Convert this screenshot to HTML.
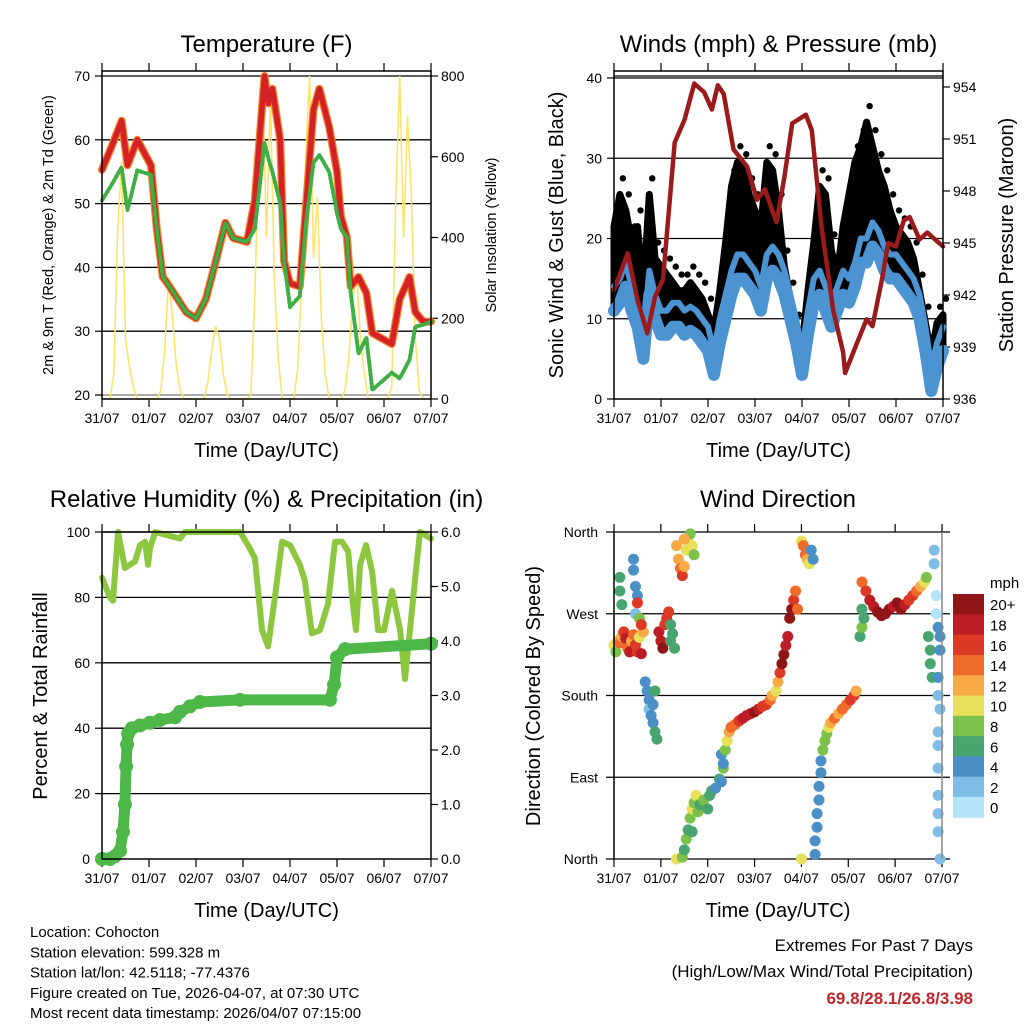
<!DOCTYPE html>
<html><head><meta charset="utf-8">
<style>
html,body{margin:0;padding:0;background:#fff;}
svg{display:block;font-family:"Liberation Sans",Arial,sans-serif;}
</style></head>
<body>
<svg id="fig" width="1024" height="1024" viewBox="0 0 1024 1024" xmlns="http://www.w3.org/2000/svg">
<rect x="0" y="0" width="1024" height="1024" fill="#fff"/>
<g id="root"></g>
</svg>
<script>
// ---------- data ----------
const dayLabels = ["31/07","01/07","02/07","03/07","04/07","05/07","06/07","07/07"];
const tempTicks = [20,30,40,50,60,70];
const solarTicks = [0,200,400,600,800];
const windTicks = [0,10,20,30,40];
const presTicks = [936,939,942,945,948,951,954];
const rhTicks = [0,20,40,60,80,100];
const rainTicks = ["0.0","1.0","2.0","3.0","4.0","5.0","6.0"];
const dirTickLabels = ["North","East","South","West","North"];
const speedLabels = ["0","2","4","6","8","10","12","14","16","18","20+"];

const tempHours = [0,5,10,13,18,25,28,31,33,43,48,53,59,63,67,74,78,83,85,87,91,93,96,101,104,108,111,116,120,122,125,127,131,135,138,148,152,157,160,164,168];
const tempRed = [55.3,59,63,56,60,56,46,38.5,37.7,33,32,35,42,47,44.6,44,50.5,70,65.7,68,60,41,37.5,37,49,64.7,68,62,55,48,44.8,37,38.5,36,29.7,28,35,38.5,33,31.5,31.5];
const dewPoint = [50.5,53,55.7,49,55.2,54.5,46,38.5,37.7,33,32,35,42,47,44.6,44,46,59.5,57,55,50,41,33.8,35.5,46.5,56.4,57.6,55,48.5,46,44.8,36,26.5,29,20.8,23.5,22.6,25.5,30.7,31,31.5];
// solar insolation every 2 hours
const solar = [0,0,0,60,420,590,150,80,30,0, 0,0,0,0,0,20,120,300,200,80, 20,0,0,0,0,0,0,40,120,180, 150,60,10,0,0,0,0,0,10,250, 600,790,400,750,300,100,0,0,0,0, 80,300,600,800,350,500,200,60,0,0, 0,0,20,100,250,310,150,60,0,0, 0,0,0,0,30,500,800,400,700,500, 150,20,0,0,0];

// winds every 3 hours
const sonicWind = [11,12,14,11,9,5,13,10,8,8,9,9,8,8.5,8,7,6,3,7,10,13,15,15,14,13,11,15,16,15,13,10,7,3,8,12,13,11,9,11,13,12,14,17,17,19,18,16,15,15,14,13,12,10,6,1,4,6];
const gustWind = [20,24,22,18,20,12,24,16,15,14,13,12,12,13,12,11,9,7,12,18,25,28,27,24,22,20,28,27,22,15,11,7,5,12,18,25,24,17,14,20,24,28,30,33,30,27,25,22,20,19,18,16,12,8,4,8,9];
const presHours = [0,7,12,17,21,25,31,36,41,46,50,53,56,61,68,73,77,83,87,91,98,101,106,112,117,118,124,129,132,137,140,144,148,151,156,160,168];
const pressure = [942.3,944.4,941.7,939.8,941.9,942.9,950.8,952.1,954.2,953.7,952.7,954.1,953.6,950.4,949.4,947.5,948.1,946.2,948.8,951.9,952.4,951.5,945.9,941.1,938.7,937.5,939.2,940.6,940.2,943,945,944.8,946.3,946.5,945.2,945.6,944.8];

const rhHours = [0,4.1,5.6,8.2,11.7,16.9,19.4,22,23.5,24.5,27.1,39.8,42.4,70.5,74.5,78.1,81.7,84.8,88.3,91.9,96,101,103.6,107.2,111.3,115.4,119,122.6,125.7,127.7,129.7,131.8,134.8,137.9,141,144,148.1,152.2,154.7,157.3,159.8,162.4,168];
const relHum = [86,80,79,100,89,91,96,97,90,95,100,98,100,100,96,92,70,65,80,97,96,90,85,69,70,78,97,97,94,80,70,90,96,88,70,70,82,70,55,70,85,100,98];
const rainHours = [0,4.1,6.6,9.2,10.7,11.7,12.3,12.8,13.3,15.3,19.4,24.5,29.6,37.3,39.8,44.9,50,70.5,116.4,118.5,120,124.1,168];
const rainTotal = [0,0,0.05,0.15,0.5,1.0,1.7,2.1,2.3,2.4,2.45,2.5,2.55,2.6,2.7,2.8,2.88,2.92,2.92,3.2,3.7,3.85,3.95];

const dirHours = [0,1,2,3,4,5,6,7,8,9,10,11,12,13,14,15, 3,3,4,10,10,11,12,11,13,12,14, 16,17,18,18,19,20,21,22,20,21, 23,24,25,26,27,28,29,30,29,31, 32,33,34,35,36,37,38,39,40,41,36, 32,35,36,37,38,39,40,41,42,43,40, 44,46,48,49,50,52,54,56,55, 55,56,57,58,59,60, 62,64,66,68,70,72,74,76,78,80,81, 83,84,85,86,87,88,89, 90,91,92,93,94, 96,97,98,99,100,101,102, 96, 103,103,104,104,105,105,106,106, 107,108,109,110, 111,113,115,117,119,121,123,124, 126,127,128,127, 127,129,131,133,135,137,139,141,143,145,147,149,151,153,155,157,159,160, 161,162,162,163, 164,164,165,166,167,167,166,166,167,166,166,166,166,166,166,167,165];
const dirDeg = [235,228,240,238,245,250,243,232,228,240,247,236,228,244,226,250, 310,295,280,330,318,300,290,270,265,282,258, 195,185,175,165,158,150,140,132,170,185, 250,240,232,258,265,272,258,248,240,232, 345,330,320,312,322,340,352,358,345,335,352, 0,2,10,22,32,45,55,62,70,52,30, 60,65,55,70,75,78,88,100,115, 85,105,120,130,140,145, 148,152,155,158,160,162,165,168,170,175,180, 185,195,205,215,225,235,245, 265,275,285,295,275, 350,345,335,330,325,340,330, 0, 5,20,35,50,65,80,95,108, 120,130,138,145, 150,155,160,165,170,175,180,185, 245,255,265,275, 305,295,285,278,272,268,270,275,278,282,275,280,285,290,295,300,305,310, 245,230,215,200, 340,325,270,255,245,230,200,180,165,140,125,100,70,50,30,0,290];
const dirSpeed = [10,9,12,14,13,16,18,15,18,12,14,17,16,10,18,12, 6,6,6,4,4,4,5,3,8,17,16, 5,4,5,3,4,5,6,6,4,6, 18,19,20,16,17,16,7,7,6,6, 12,12,14,16,13,10,11,9,10,8,12, 10,9,6,8,7,8,10,9,10,8,6, 6,8,7,6,6,5,6,8,5, 5,4,8,10,12,14, 15,17,18,19,18,20,18,16,17,14,12, 10,12,16,20,20,18,18, 20,20,16,14,14, 10,14,14,12,10,4,4, 11, 4,5,4,5,4,4,4,5, 8,8,9,10, 13,14,13,15,14,16,16,12, 6,8,7,6, 14,16,18,18,20,20,20,20,19,20,20,18,16,16,14,12,10,8, 6,6,6,6, 2,2,1,4,4,4,4,2,2,3,2,3,2,2,2,3,1];
const speedColors = ["#b5e3f8","#80bde6","#4a8fc6","#48a56f","#7cc14a","#e8e05a","#f7aa45","#f06a2a","#dd3a26","#bd1d24","#8f1517"];

// ---------- helpers ----------
const NS = "http://www.w3.org/2000/svg";
const root = document.getElementById("root");
function mk(tag, attrs, parent){
  const e = document.createElementNS(NS, tag);
  for (const k in attrs) e.setAttribute(k, attrs[k]);
  (parent || root).appendChild(e);
  return e;
}
function txt(s, x, y, size, anchor, parent, extra){
  const e = mk("text", Object.assign({x:x, y:y, "font-size":size, "text-anchor":anchor||"middle", fill:"#000"}, extra||{}), parent);
  e.textContent = s;
  return e;
}
function linScale(d0,d1,r0,r1){ return v => r0 + (v-d0)/(d1-d0)*(r1-r0); }
function pathFrom(xs, ys){ let d=""; for(let i=0;i<xs.length;i++){ d += (i?"L":"M")+xs[i].toFixed(1)+","+ys[i].toFixed(1);} return d; }

function panelFrame(g, L, R, T, B, tickY, labelY){
  const xS = linScale(0,168,L,R);
  for (let i=0;i<dayLabels.length;i++){
    const x = xS(i*24);
    mk("line",{x1:x,y1:B,x2:x,y2:B+8,stroke:"#000","stroke-width":1.2},g);
    mk("line",{x1:x,y1:T,x2:x,y2:T-8,stroke:"#000","stroke-width":1.2},g);
    const t = txt(dayLabels[i], x, tickY, 14, "middle", g);
    
    
  }
  const xl = txt("Time (Day/UTC)", (L+R)/2, labelY, 20, "middle", g);
  
  
  return xS;
}
function frameBox(g,L,R,T,B){
  const r = mk("rect",{x:L,y:T,width:R-L,height:B-T,fill:"none",stroke:"#000","stroke-width":1.5},g);
  
  
}

// ---------- Panel 1: Temperature ----------
(function(){
  const L=102,R=431,T=71,B=399;
  const g = mk("g",{});
  
  
  const xS = panelFrame(g,L,R,T,B,423,457);
  const yT = linScale(20,70,395,76);
  const yS = linScale(0,800,399,76);
  for (const v of tempTicks){
    const y = yT(v);
    mk("line",{x1:L,y1:y,x2:R,y2:y,stroke:v===20?"#777":"#000","stroke-width":1.3},g);
    mk("line",{x1:L,y1:y,x2:L-7,y2:y,stroke:"#000","stroke-width":1.2},g);
    const t = txt(String(v), L-12, y+5, 14, "end", g);
    
    
  }
  for (const v of solarTicks){
    const y = yS(v);
    mk("line",{x1:R,y1:y,x2:R+7,y2:y,stroke:"#000","stroke-width":1.2},g);
    const t = txt(String(v), R+10, y+5, 14, "start", g);
    
    
  }
  const sx = solar.map((v,i)=>xS(i*2)), sy = solar.map(v=>yS(v));
  const sp = mk("path",{d:pathFrom(sx,sy),fill:"none",stroke:"#fde36a","stroke-width":1.6},g);
  
  
  const tx = tempHours.map(xS);
  const o = mk("path",{d:pathFrom(tx,tempRed.map(yT)),fill:"none",stroke:"#f0862e","stroke-width":8,"stroke-linejoin":"round","stroke-linecap":"round"},g);
  
  
  const r = mk("path",{d:pathFrom(tx,tempRed.map(yT)),fill:"none",stroke:"#d42126","stroke-width":5.5,"stroke-linejoin":"round","stroke-linecap":"round"},g);
  
  
  const d = mk("path",{d:pathFrom(tx,dewPoint.map(yT)),fill:"none",stroke:"#3eae45","stroke-width":4,"stroke-dasharray":"2 2.5","stroke-linecap":"round","stroke-linejoin":"round"},g);
  
  
  frameBox(g,L,R,T,B);
  const ti = txt("Temperature (F)", (L+R)/2, 52, 24, "middle", g);
  
  
  const yl = txt("2m & 9m T (Red, Orange) & 2m Td (Green)", 0, 0, 14.5, "middle", g, {transform:"translate(53,235) rotate(-90)"});
  
  
  const yr = txt("Solar Insolation (Yellow)", 0, 0, 14.5, "middle", g, {transform:"translate(496,235) rotate(-90)"});
  
  
})();

// ---------- Panel 2: Winds ----------
(function(){
  const L=614,R=943,T=71,B=399;
  const g = mk("g",{});
  
  
  const xS = panelFrame(g,L,R,T,B,423,457);
  const yW = linScale(0,40,399,78);
  const yP = linScale(936,954,399,87);
  for (const v of windTicks){
    const y = yW(v);
    if (v>0) mk("line",{x1:L,y1:y,x2:R,y2:y,stroke:"#000","stroke-width":1.3},g);
    mk("line",{x1:L,y1:y,x2:L-7,y2:y,stroke:"#000","stroke-width":1.2},g);
    const t = txt(String(v), L-12, y+5, 14, "end", g);
    
    
  }
  for (const v of presTicks){
    const y = yP(v);
    mk("line",{x1:R,y1:y,x2:R+7,y2:y,stroke:"#000","stroke-width":1.2},g);
    const t = txt(String(v), R+10, y+5, 14, "start", g);
    
    
  }
  const wx = gustWind.map((v,i)=>xS(i*3));
  // gust cloud: filled band from sonic wind up to gust
  let dArea = pathFrom(wx, gustWind.map(v=>yW(v+1.5)));
  for (let i=sonicWind.length-1;i>=0;i--) dArea += "L"+wx[i].toFixed(1)+","+yW(sonicWind[i]).toFixed(1);
  dArea += "Z";
  const ga = mk("path",{d:dArea,fill:"#000",stroke:"#000","stroke-width":7,"stroke-linejoin":"round"},g);
  
  
  for (let i=0;i<gustWind.length;i++){
    const c = mk("circle",{cx:wx[i]+3,cy:yW(gustWind[i]+3.5),r:3.2,fill:"#000"},g);
    
    
  }
  const bp = mk("path",{d:pathFrom(wx,sonicWind.map(yW)),fill:"none",stroke:"#4b93d1","stroke-width":12,"stroke-linejoin":"round","stroke-linecap":"round"},g);
  
  
  const bp2 = mk("path",{d:pathFrom(wx,sonicWind.map(v=>yW(v+3))),fill:"none",stroke:"#4b93d1","stroke-width":6,"stroke-linejoin":"round","stroke-linecap":"round"},g);
  
  
  const pp = mk("path",{d:pathFrom(presHours.map(xS),pressure.map(yP)),fill:"none",stroke:"#9b1a1c","stroke-width":4.5,"stroke-linejoin":"round","stroke-linecap":"round"},g);
  
  
  mk("line",{x1:L,y1:76,x2:R,y2:76,stroke:"#000","stroke-width":1.3},g);
  frameBox(g,L,R,T,B);
  const ti = txt("Winds (mph) & Pressure (mb)", (L+R)/2, 52, 24, "middle", g);
  
  
  const yl = txt("Sonic Wind & Gust (Blue, Black)", 0, 0, 20, "middle", g, {transform:"translate(563,235) rotate(-90)"});
  
  
  const yr = txt("Station Pressure (Maroon)", 0, 0, 20, "middle", g, {transform:"translate(1013,235) rotate(-90)"});
  
  
})();

// ---------- Panel 3: RH & Precip ----------
(function(){
  const L=102,R=431,T=532,B=859;
  const g = mk("g",{});
  
  
  const xS = panelFrame(g,L,R,T,B,883,917);
  const yR = linScale(0,100,859,532);
  const yP = linScale(0,6,859,532);
  for (const v of rhTicks){
    const y = yR(v);
    if (v>0) mk("line",{x1:L,y1:y,x2:R,y2:y,stroke:"#000","stroke-width":1.3},g);
    mk("line",{x1:L,y1:y,x2:L-7,y2:y,stroke:"#000","stroke-width":1.2},g);
    const t = txt(String(v), L-12, y+5, 14, "end", g);
    
    
  }
  for (let i=0;i<rainTicks.length;i++){
    const y = yP(i);
    mk("line",{x1:R,y1:y,x2:R+7,y2:y,stroke:"#000","stroke-width":1.2},g);
    const t = txt(rainTicks[i], R+10, y+5, 14, "start", g);
    
    
  }
  const rp = mk("path",{d:pathFrom(rhHours.map(xS),relHum.map(yR)),fill:"none",stroke:"#8dc63f","stroke-width":6,"stroke-linejoin":"round","stroke-linecap":"round"},g);
  
  
  const px = rainHours.map(xS), py = rainTotal.map(yP);
  const pl = mk("path",{d:pathFrom(px,py),fill:"none",stroke:"#4db848","stroke-width":11,"stroke-linejoin":"round","stroke-linecap":"round"},g);
  
  
  for (let i=0;i<px.length;i++){
    const c = mk("circle",{cx:px[i],cy:py[i],r:7,fill:"#4db848"},g);
    
    
  }
  frameBox(g,L,R,T,B);
  const ti = txt("Relative Humidity (%) & Precipitation (in)", (L+R)/2, 507, 24, "middle", g);
  
  
  const yl = txt("Percent & Total Rainfall", 0, 0, 20, "middle", g, {transform:"translate(47,696) rotate(-90)"});
  
  
})();

// ---------- Panel 4: Wind Direction ----------
(function(){
  const L=614,R=942,T=532,B=859;
  const g = mk("g",{});
  
  
  const xS = panelFrame(g,L,R,T,B,883,917);
  const yD = linScale(0,360,859,532);
  for (let i=0;i<dirTickLabels.length;i++){
    const y = yD(i*90);
    mk("line",{x1:L-8,y1:y,x2:R+8,y2:y,stroke:"#000","stroke-width":1.3},g);
    const t = txt(dirTickLabels[i], L-16, y+5, 14, "end", g);
    
    
  }
  for (let i=0;i<dirHours.length;i++){
    const bin = Math.max(0, Math.min(10, Math.floor(dirSpeed[i]/2)));
    const c = mk("circle",{cx:xS(dirHours[i]),cy:yD(dirDeg[i]),r:5.5,fill:speedColors[bin]},g);
    
    
  }
  mk("line",{x1:L,y1:T,x2:L,y2:B,stroke:"#000","stroke-width":1.5},g);
  mk("line",{x1:R,y1:T,x2:R,y2:B,stroke:"#888","stroke-width":1.5},g);
  const ti = txt("Wind Direction", (L+R)/2, 507, 24, "middle", g);
  
  
  const yl = txt("Direction (Colored By Speed)", 0, 0, 20, "middle", g, {transform:"translate(540,696) rotate(-90)"});
  
  
  // colorbar
  const cb = mk("g",{},g);
  
  
  const ch = 20.3, ctop = 594;
  for (let i=0;i<speedLabels.length;i++){
    const idx = speedLabels.length-1-i;
    const r = mk("rect",{x:953,y:ctop+i*ch,width:31,height:ch+0.5,fill:speedColors[idx]},cb);
    
    
    const t = txt(speedLabels[idx], 990, ctop+i*ch+ch/2+6, 15, "start", cb);
    
    
  }
  const u = txt("mph", 990, 588, 15, "start", cb);
  
  
})();

// ---------- footer text ----------
(function(){
  const g = mk("g",{});
  
  
  const lines = ["Location: Cohocton","Station elevation: 599.328 m","Station lat/lon: 42.5118; -77.4376","Figure created on Tue, 2026-04-07, at 07:30 UTC","Most recent data timestamp: 2026/04/07 07:15:00"];
  for (let i=0;i<lines.length;i++){
    const t = txt(lines[i], 30, 937+i*20.3, 15, "start", g);
    
    
  }
  const e = mk("g",{});
  
  
  const a = txt("Extremes For Past 7 Days", 973, 951, 17, "end", e);
  
  
  const b = txt("(High/Low/Max Wind/Total Precipitation)", 973, 977, 17, "end", e);
  
  
  const c = txt("69.8/28.1/26.8/3.98", 973, 1004, 17, "end", e, {fill:"#c1272d","font-weight":"bold"});
  
  
})();
</script>
</body></html>
